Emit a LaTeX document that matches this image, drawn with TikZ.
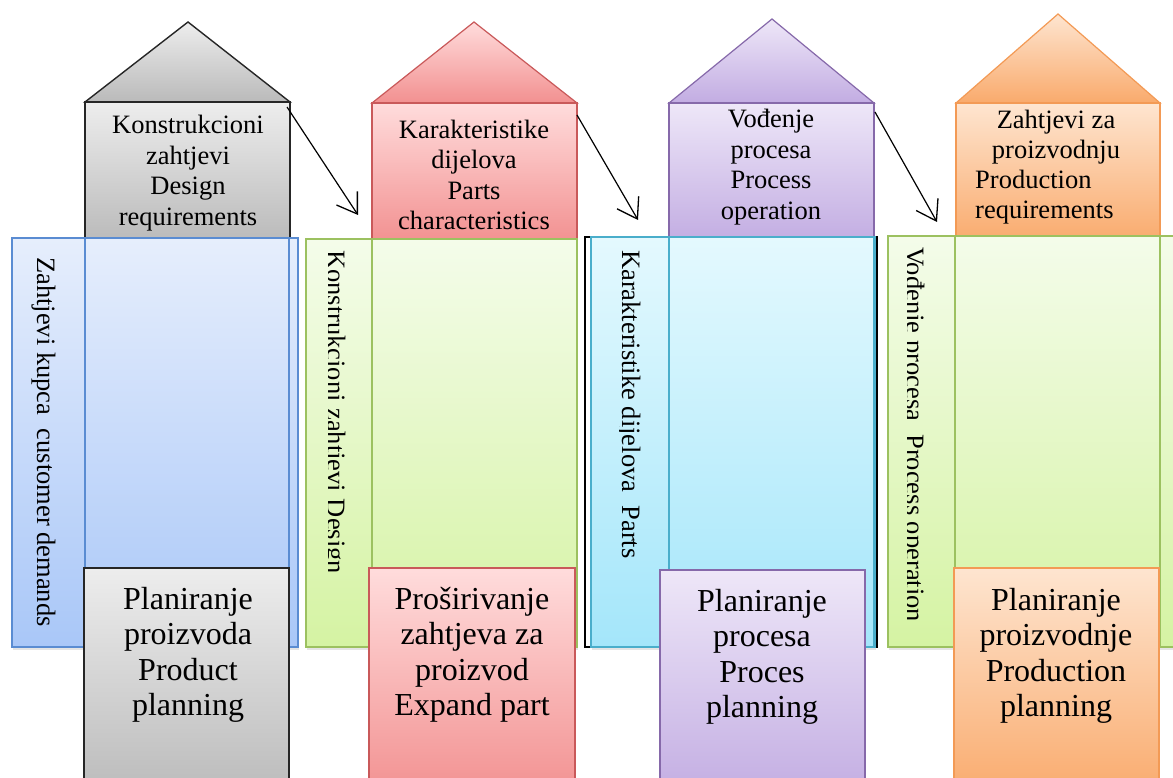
\documentclass[tikz,border=0pt]{standalone}
\usepackage{fontspec}
\setmainfont{Liberation Serif}
\usetikzlibrary{arrows.meta,shadows}
\definecolor{grayline}{HTML}{262626}
\definecolor{grayA}{HTML}{EDEDED}
\definecolor{grayB}{HTML}{BABABA}
\definecolor{redline}{HTML}{C9595A}
\definecolor{redA}{HTML}{FFDCDC}
\definecolor{redB}{HTML}{F29090}
\definecolor{purline}{HTML}{8669AA}
\definecolor{purA}{HTML}{EEE7F8}
\definecolor{purB}{HTML}{C2ACE2}
\definecolor{orline}{HTML}{F39A55}
\definecolor{orA}{HTML}{FEE5D0}
\definecolor{orB}{HTML}{F9AA6C}
\definecolor{blueline}{HTML}{5A8CD2}
\definecolor{blueA}{HTML}{E6EEFC}
\definecolor{blueB}{HTML}{A9C7F8}
\definecolor{greenline}{HTML}{9CC160}
\definecolor{greenA}{HTML}{F4FCEA}
\definecolor{greenB}{HTML}{D5F3A3}
\definecolor{cyanline}{HTML}{4AAECB}
\definecolor{cyanA}{HTML}{E4F9FE}
\definecolor{cyanB}{HTML}{A4E6FA}
\begin{document}
\begin{tikzpicture}[x=1pt,y=-1pt,
  rect/.style={anchor=north west,inner sep=0pt,outer sep=0pt},
  shad/.style={drop shadow={opacity=0.2,shadow xshift=0.6pt,shadow yshift=-2.5pt}},
  graysty/.style={top color=grayA,bottom color=grayB,draw=grayline,line width=1.4pt,line join=miter},
  redsty/.style={top color=redA,bottom color=redB,draw=redline,line width=1.2pt,line join=miter},
  pursty/.style={top color=purA,bottom color=purB,draw=purline,line width=1.2pt,line join=miter},
  orsty/.style={top color=orA,bottom color=orB,draw=orline,line width=1.2pt,line join=miter},
  bluesty/.style={top color=blueA,bottom color=blueB,draw=blueline,line width=1.1pt},
  greensty/.style={top color=greenA,bottom color=greenB,draw=greenline,line width=1.1pt},
  cyansty/.style={top color=cyanA,bottom color=cyanB,draw=cyanline,line width=1.1pt},
  toptext/.style={align=center,inner sep=0pt,font=\fontsize{26.5}{30.5}\selectfont},
  bottext/.style={align=center,inner sep=0pt,font=\fontsize{32}{35.5}\selectfont},
  rottext/.style={rotate=-90,anchor=base west,inner sep=0pt,font=\fontsize{26.5}{30.5}\selectfont},
  arr/.style={line width=1.2pt,-{Straight Barb[length=19pt,width=25pt,line width=1.3pt]}}
]
\clip (0,0) rectangle (1173,778);
\fill[white] (0,0) rectangle (1173,778);

% ---- roofs
\path[graysty] (85,102) -- (188,22) -- (290,102) -- cycle;
\path[redsty] (372,103) -- (474,22) -- (577,103) -- cycle;
\path[pursty] (669,103) -- (772,19) -- (874,103) -- cycle;
\path[orsty] (956,103) -- (1058,14) -- (1160,103) -- cycle;

% ---- top bodies
\node[rect,graysty,shad,minimum width=205pt,minimum height=140pt] (t1) at (85,102) {};
\node[rect,redsty,shad,minimum width=205pt,minimum height=140pt] (t2) at (372,103) {};
\node[rect,pursty,shad,minimum width=205pt,minimum height=140pt] (t3) at (669,103) {};
\node[rect,orsty,shad,minimum width=204pt,minimum height=140pt] (t4) at (956,103) {};

\node[toptext] (t1x) at (188,173) {Konstrukcioni\\zahtjevi\\Design\\requirements};
\node[toptext] (t2x) at (474,175) {Karakteristike\\dijelova\\Parts\\characteristics};
\node[toptext] (t3x) at (771,167) {Vođenje\\procesa\\Process\\operation};
\node[toptext] (t4x) at (1056,137) {Zahtjevi za\\proizvodnju};
\node[toptext,align=left,anchor=west] (t4y) at (975,197) {Production\\requirements};

% ---- side panels
\node[rect,bluesty,shad,minimum width=286pt,minimum height=409pt] (s1) at (12,238) {};
\node[rect,draw=blueline,line width=1.1pt,minimum width=204pt,minimum height=409pt] (c1) at (85,238) {};

\node[rect,greensty,shad,minimum width=271pt,minimum height=408pt] (s2) at (306,239) {};
\node[rect,draw=greenline,line width=1.1pt,minimum width=205pt,minimum height=408pt] (c2) at (372,239) {};

\node[rect,draw=black,line width=1.2pt,minimum width=292pt,minimum height=410pt] (s3b) at (585,237) {};
\node[rect,cyansty,shad,minimum width=284pt,minimum height=410pt] (s3) at (591,237) {};
\node[rect,draw=cyanline,line width=1.1pt,minimum width=205pt,minimum height=410pt] (c3) at (669,237) {};

\node[rect,greensty,shad,minimum width=300pt,minimum height=411pt] (s4) at (888,236) {};
\node[rect,draw=greenline,line width=1.1pt,minimum width=205pt,minimum height=411pt] (c4) at (955,236) {};

% ---- rotated texts
\node[rottext] (r1) at (37,257) {Zahtjevi kupca~ customer demands};
\begin{scope}
\clip (328,240) rectangle (372,645);
\node[rottext] (r2) at (327,250) {Konstrukcioni zahtjevi Design};
\end{scope}
\begin{scope}
\clip (619,240) rectangle (669,645);
\node[rottext] (r3) at (622,250) {Karakteristike dijelova~ Parts};
\end{scope}
\begin{scope}
\clip (907.5,240) rectangle (955,645);
\node[rottext] (r4) at (906,247) {Vođenje procesa~ Process operation};
\end{scope}

% ---- bottom boxes
\node[rect,graysty,shad,minimum width=205pt,minimum height=230pt] (b1) at (84,568) {};
\node[rect,redsty,shad,minimum width=206pt,minimum height=230pt] (b2) at (369,568) {};
\node[rect,pursty,shad,minimum width=205pt,minimum height=230pt] (b3) at (660,570) {};
\node[rect,orsty,shad,minimum width=205pt,minimum height=230pt] (b4) at (954,568) {};

\node[bottext] (b1x) at (188,655) {Planiranje\\proizvoda\\Product\\planning};
\node[bottext] (b2x) at (472,655) {Proširivanje\\zahtjeva za\\proizvod\\Expand part};
\node[bottext] (b3x) at (762,657) {Planiranje\\procesa\\Proces\\planning};
\node[bottext] (b4x) at (1056,656) {Planiranje\\proizvodnje\\Production\\planning};

% ---- arrows
\coordinate (a1s) at (287,107);
\coordinate (a1e) at (358,215);
\coordinate (a2s) at (577,115);
\coordinate (a2e) at (638,220);
\coordinate (a3s) at (875,112);
\coordinate (a3e) at (937,222);
\draw[arr] (a1s) -- (a1e);
\draw[arr] (a2s) -- (a2e);
\draw[arr] (a3s) -- (a3e);
\end{tikzpicture}
\end{document}
